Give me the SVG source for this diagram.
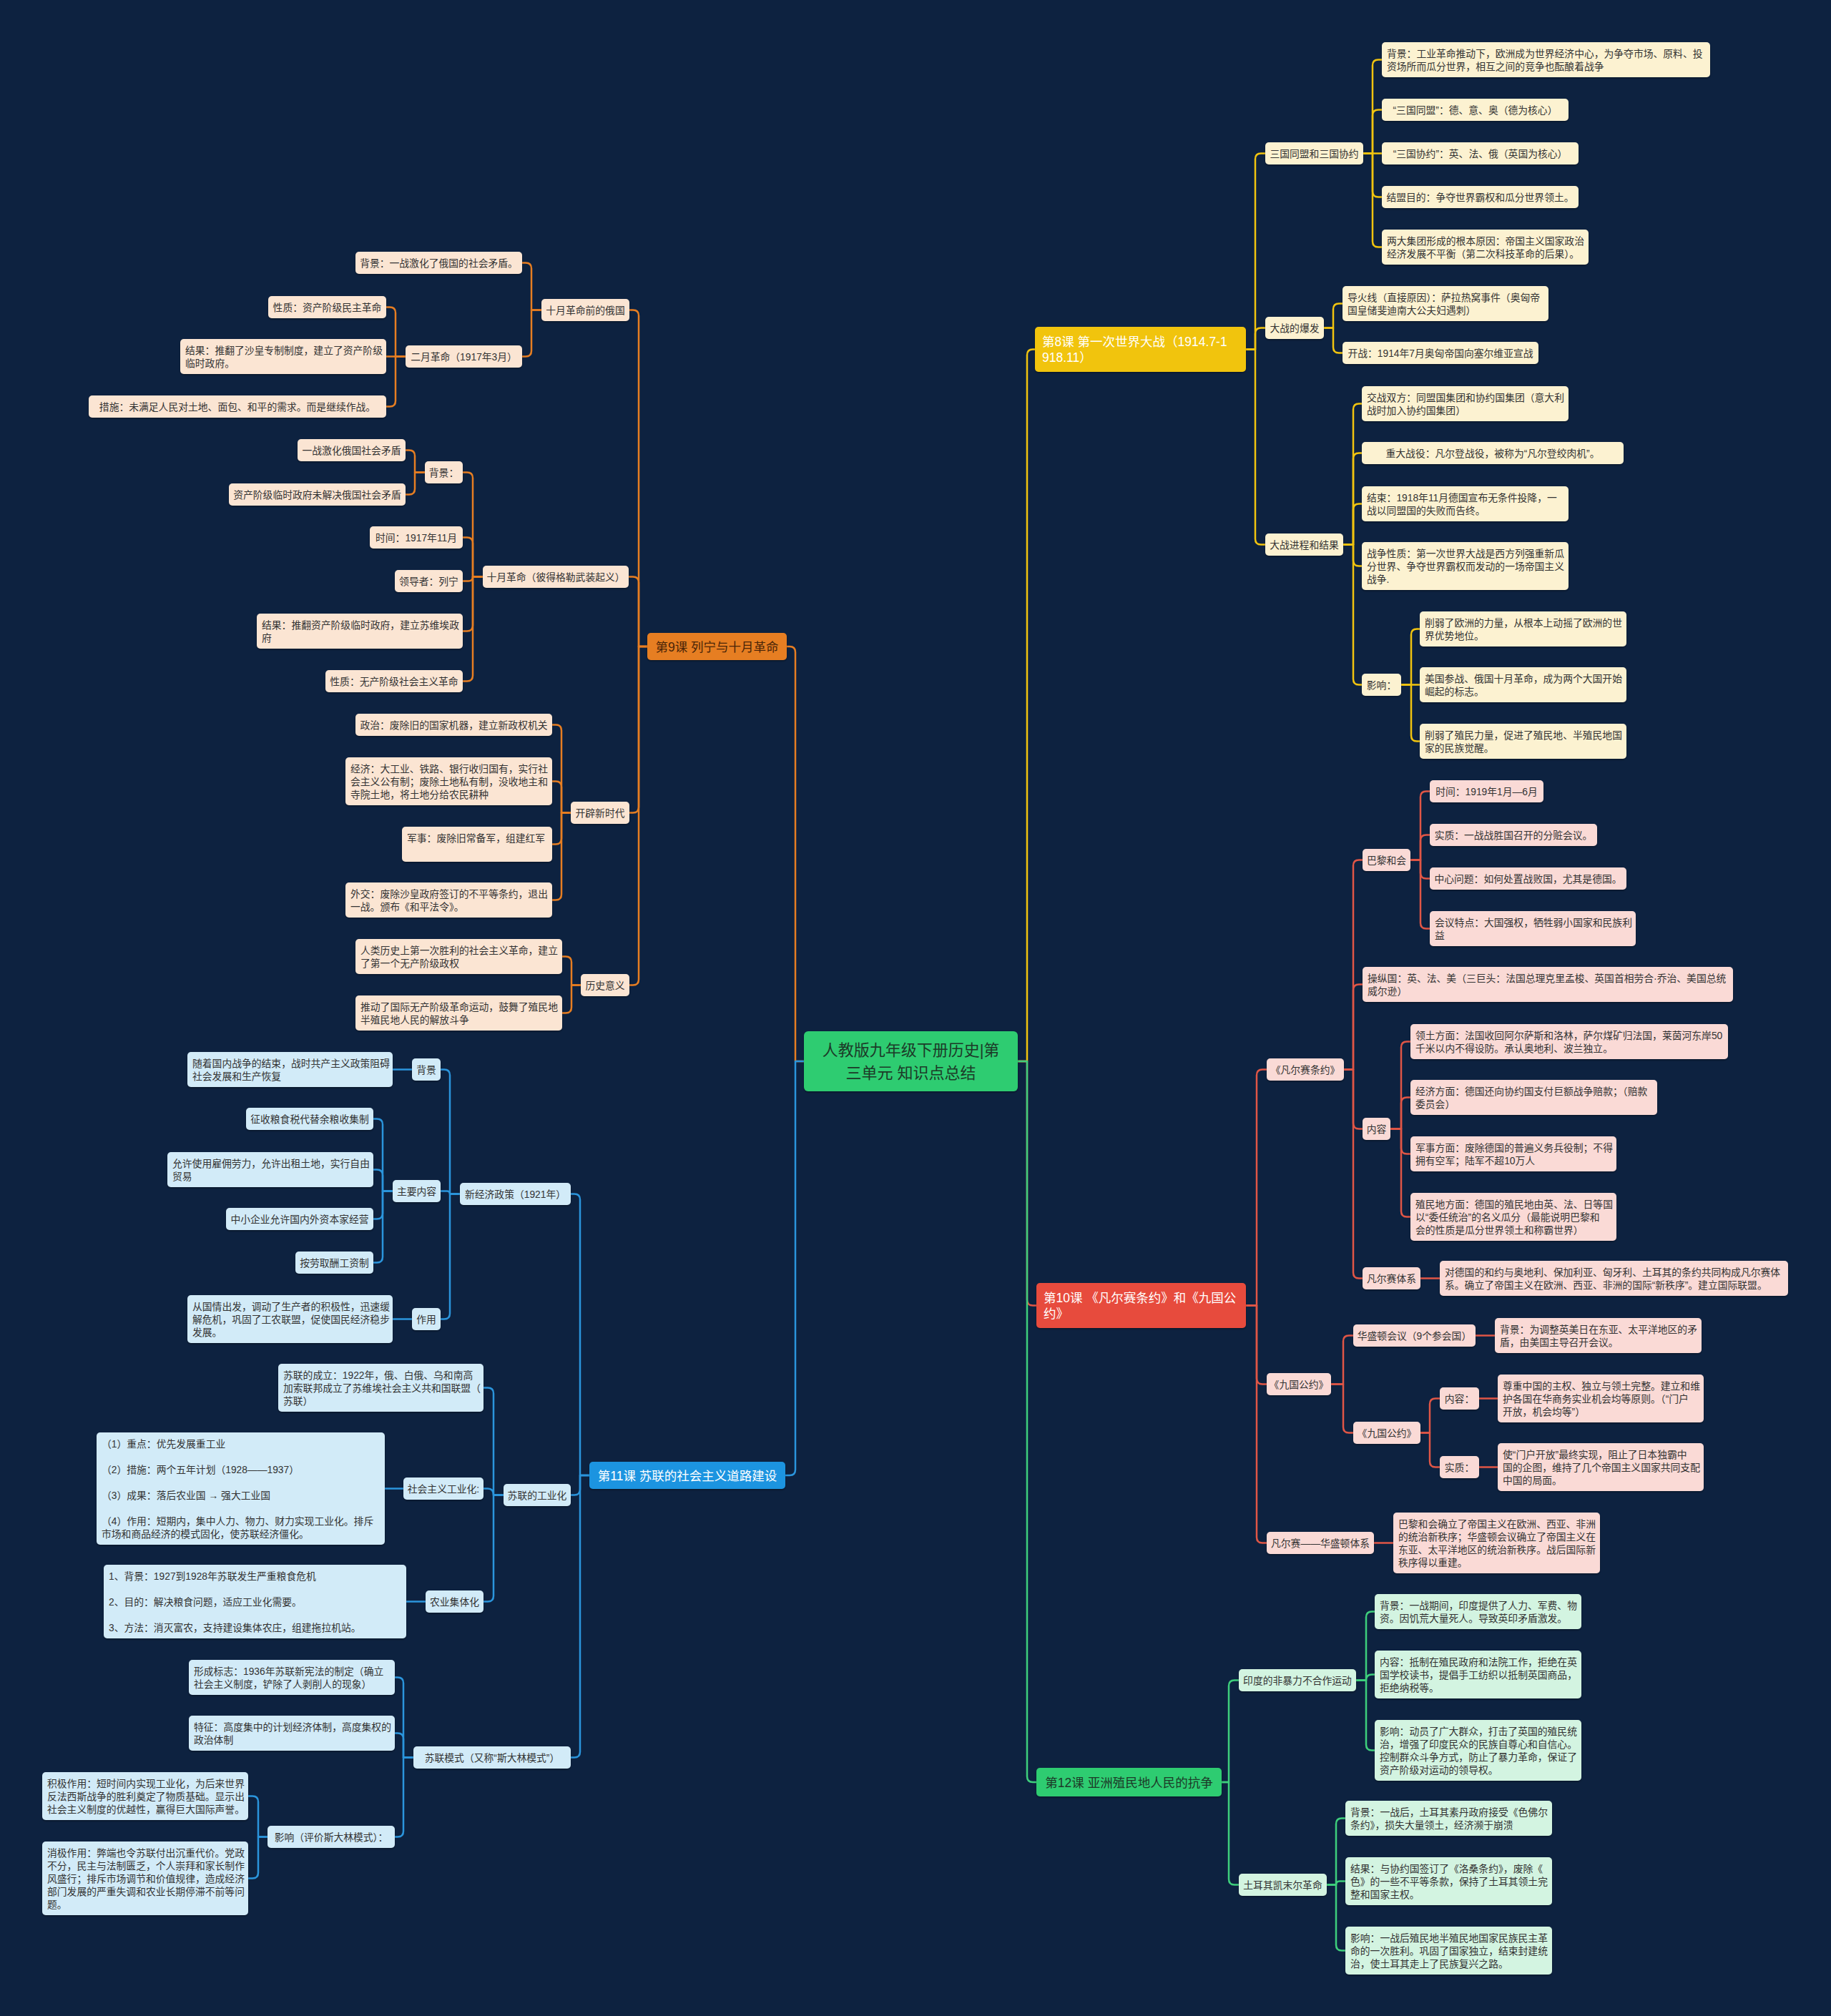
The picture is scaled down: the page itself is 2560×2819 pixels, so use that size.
<svg xmlns="http://www.w3.org/2000/svg" width="2560" height="2819" viewBox="0 0 2560 2819">
<defs>
<filter id="sh" x="-5%" y="-10%" width="110%" height="130%"><feDropShadow dx="0" dy="1.5" stdDeviation="1.2" flood-color="#000" flood-opacity="0.35"/></filter>
<style>
text{font-family:"Liberation Sans","Noto Sans CJK SC",sans-serif}
.t{font-size:13.8px;fill:#333}
.m{text-anchor:middle}
.L1{font-size:17.5px}
.ry{fill:#fcf2d1}.ro{fill:#fbe5d3}.rr{fill:#fadad6}.rb{fill:#d2ebf8}.rg{fill:#d3f4e1}
rect.n{filter:url(#sh)}
.c{fill:none;stroke-width:2.5;stroke-linecap:round;stroke-linejoin:round}
.cy{stroke:#f1c40f}.co{stroke:#e67e22}.cr{stroke:#e05646}.cb{stroke:#2b95dc}.cg{stroke:#3ecf7c}
</style>
</defs>
<rect x="0" y="0" width="2560" height="2819" fill="#0d2240"/>

<g id="connectors">
<path class="c co" d="M1124,1484H1112V912Q1112,904 1104,904H1100"/>
<path class="c cb" d="M1124,1484H1112V2055Q1112,2063 1104,2063H1098"/>
<path class="c cy" d="M1423,1484H1436V496.5Q1436,488.5 1444,488.5H1447"/>
<path class="c cr" d="M1423,1484H1436V1817.5Q1436,1825.5 1444,1825.5H1449"/>
<path class="c cg" d="M1423,1484H1436V2484Q1436,2492 1444,2492H1449"/>

<path class="c cy" d="M1742,488.5H1755V222.5Q1755,214.5 1763,214.5H1769"/>
<path class="c cy" d="M1742,488.5H1755V466.5Q1755,458.5 1763,458.5H1769"/>
<path class="c cy" d="M1742,488.5H1755V753.5Q1755,761.5 1763,761.5H1769"/>
<path class="c cy" d="M1906,214.5H1919V91.5Q1919,83.5 1927,83.5H1932"/>
<path class="c cy" d="M1906,214.5H1919V161.5Q1919,153.5 1927,153.5H1932"/>
<path class="c cy" d="M1906,214.5H1932"/>
<path class="c cy" d="M1906,214.5H1919V267.5Q1919,275.5 1927,275.5H1932"/>
<path class="c cy" d="M1906,214.5H1919V337.5Q1919,345.5 1927,345.5H1932"/>
<path class="c cy" d="M1851,458.5H1864V432.5Q1864,424.5 1872,424.5H1877"/>
<path class="c cy" d="M1851,458.5H1864V485.5Q1864,493.5 1872,493.5H1877"/>
<path class="c cy" d="M1878,761.5H1892V572.5Q1892,564.5 1900,564.5H1904"/>
<path class="c cy" d="M1878,761.5H1892V641.5Q1892,633.5 1900,633.5H1904"/>
<path class="c cy" d="M1878,761.5H1892V712.5Q1892,704.5 1900,704.5H1904"/>
<path class="c cy" d="M1878,761.5H1892V783.5Q1892,791.5 1900,791.5H1904"/>
<path class="c cy" d="M1878,761.5H1892V949.5Q1892,957.5 1900,957.5H1904"/>
<path class="c cy" d="M1959,957.5H1973V887.5Q1973,879.5 1981,879.5H1985"/>
<path class="c cy" d="M1959,957.5H1985"/>
<path class="c cy" d="M1959,957.5H1973V1028.5Q1973,1036.5 1981,1036.5H1985"/>

<path class="c cr" d="M1742,1825.5H1757V1503.5Q1757,1495.5 1765,1495.5H1771"/>
<path class="c cr" d="M1742,1825.5H1757V1927.5Q1757,1935.5 1765,1935.5H1771"/>
<path class="c cr" d="M1742,1825.5H1757V2149.5Q1757,2157.5 1765,2157.5H1771"/>
<path class="c cr" d="M1879,1495.5H1892V1210.5Q1892,1202.5 1900,1202.5H1905"/>
<path class="c cr" d="M1879,1495.5H1892V1384.5Q1892,1376.5 1900,1376.5H1905"/>
<path class="c cr" d="M1879,1495.5H1892V1570.5Q1892,1578.5 1900,1578.5H1905"/>
<path class="c cr" d="M1879,1495.5H1892V1779.5Q1892,1787.5 1900,1787.5H1905"/>
<path class="c cr" d="M1972,1202.5H1986V1114.5Q1986,1106.5 1994,1106.5H1999"/>
<path class="c cr" d="M1972,1202.5H1986V1175.5Q1986,1167.5 1994,1167.5H1999"/>
<path class="c cr" d="M1972,1202.5H1986V1220.5Q1986,1228.5 1994,1228.5H1999"/>
<path class="c cr" d="M1972,1202.5H1986V1290.5Q1986,1298.5 1994,1298.5H1999"/>
<path class="c cr" d="M1944,1578.5H1959V1464.5Q1959,1456.5 1967,1456.5H1972"/>
<path class="c cr" d="M1944,1578.5H1959V1542.5Q1959,1534.5 1967,1534.5H1972"/>
<path class="c cr" d="M1944,1578.5H1959V1605.5Q1959,1613.5 1967,1613.5H1972"/>
<path class="c cr" d="M1944,1578.5H1959V1693.5Q1959,1701.5 1967,1701.5H1972"/>
<path class="c cr" d="M1986,1787.5H2013"/>
<path class="c cr" d="M1861,1935.5H1878V1875.5Q1878,1867.5 1886,1867.5H1892"/>
<path class="c cr" d="M1861,1935.5H1878V1995.5Q1878,2003.5 1886,2003.5H1892"/>
<path class="c cr" d="M2063,1867.5H2090"/>
<path class="c cr" d="M1986,2003.5H1999V1963.5Q1999,1955.5 2007,1955.5H2013"/>
<path class="c cr" d="M1986,2003.5H1999V2043.5Q1999,2051.5 2007,2051.5H2013"/>
<path class="c cr" d="M2068,1955.5H2094"/>
<path class="c cr" d="M2068,2051.5H2094"/>
<path class="c cr" d="M1921,2157.5H1948"/>

<path class="c cg" d="M1708,2492H1718V2357.5Q1718,2349.5 1726,2349.5H1732"/>
<path class="c cg" d="M1708,2492H1718V2627.5Q1718,2635.5 1726,2635.5H1732"/>
<path class="c cg" d="M1896,2349.5H1910V2261.5Q1910,2253.5 1918,2253.5H1922"/>
<path class="c cg" d="M1896,2349.5H1910Q1910,2341.5 1918,2341.5H1922"/>
<path class="c cg" d="M1896,2349.5H1910V2439.5Q1910,2447.5 1918,2447.5H1922"/>
<path class="c cg" d="M1855,2635.5H1868V2550.5Q1868,2542.5 1876,2542.5H1881"/>
<path class="c cg" d="M1855,2635.5H1868Q1868,2630.5 1873,2630.5H1881"/>
<path class="c cg" d="M1855,2635.5H1868V2719.5Q1868,2727.5 1876,2727.5H1881"/>

<path class="c co" d="M905,904H893V441.5Q893,433.5 885,433.5H880"/>
<path class="c co" d="M905,904H893V814.5Q893,806.5 885,806.5H880"/>
<path class="c co" d="M905,904H893V1128.5Q893,1136.5 885,1136.5H880"/>
<path class="c co" d="M905,904H893V1369.5Q893,1377.5 885,1377.5H880"/>
<path class="c co" d="M757,433.5H743V375.5Q743,367.5 735,367.5H730"/>
<path class="c co" d="M757,433.5H743V490.5Q743,498.5 735,498.5H730"/>
<path class="c co" d="M567,498.5H553V437.5Q553,429.5 545,429.5H540"/>
<path class="c co" d="M567,498.5H540"/>
<path class="c co" d="M567,498.5H553V560.5Q553,568.5 545,568.5H540"/>
<path class="c co" d="M675,806.5H661V668.5Q661,660.5 653,660.5H647"/>
<path class="c co" d="M675,806.5H661V759.5Q661,751.5 653,751.5H647"/>
<path class="c co" d="M675,806.5H661Q661,812.5 655,812.5H647"/>
<path class="c co" d="M675,806.5H661V874.5Q661,882.5 653,882.5H647"/>
<path class="c co" d="M675,806.5H661V944.5Q661,952.5 653,952.5H647"/>
<path class="c co" d="M594,660.5H580V637.5Q580,629.5 572,629.5H567"/>
<path class="c co" d="M594,660.5H580V683.5Q580,691.5 572,691.5H567"/>
<path class="c co" d="M798,1136.5H785V1021.5Q785,1013.5 777,1013.5H772"/>
<path class="c co" d="M798,1136.5H785V1100.5Q785,1092.5 777,1092.5H772"/>
<path class="c co" d="M798,1136.5H785V1172.5Q785,1180.5 777,1180.5H772"/>
<path class="c co" d="M798,1136.5H785V1250.5Q785,1258.5 777,1258.5H772"/>
<path class="c co" d="M812,1377.5H799V1345.5Q799,1337.5 791,1337.5H786"/>
<path class="c co" d="M812,1377.5H799V1408.5Q799,1416.5 791,1416.5H786"/>

<path class="c cb" d="M824,2063H811V1677.5Q811,1669.5 803,1669.5H798"/>
<path class="c cb" d="M824,2063H811V2082.5Q811,2090.5 803,2090.5H798"/>
<path class="c cb" d="M824,2063H811V2449.5Q811,2457.5 803,2457.5H798"/>
<path class="c cb" d="M643,1669.5H629V1503.5Q629,1495.5 621,1495.5H616"/>
<path class="c cb" d="M643,1669.5H629Q629,1665.5 625,1665.5H616"/>
<path class="c cb" d="M643,1669.5H629V1836.5Q629,1844.5 621,1844.5H616"/>
<path class="c cb" d="M576,1495.5H549"/>
<path class="c cb" d="M549,1665.5H535V1572.5Q535,1564.5 527,1564.5H522"/>
<path class="c cb" d="M549,1665.5H535V1643.5Q535,1635.5 527,1635.5H522"/>
<path class="c cb" d="M549,1665.5H535V1696.5Q535,1704.5 527,1704.5H522"/>
<path class="c cb" d="M549,1665.5H535V1757.5Q535,1765.5 527,1765.5H522"/>
<path class="c cb" d="M576,1844.5H549"/>
<path class="c cb" d="M704,2090.5H690V1948.5Q690,1940.5 682,1940.5H676"/>
<path class="c cb" d="M704,2090.5H690Q690,2081.5 682,2081.5H676"/>
<path class="c cb" d="M704,2090.5H690V2231.5Q690,2239.5 682,2239.5H676"/>
<path class="c cb" d="M564,2081.5H538"/>
<path class="c cb" d="M595,2239.5H568"/>
<path class="c cb" d="M578,2457.5H564V2353.5Q564,2345.5 556,2345.5H552"/>
<path class="c cb" d="M578,2457.5H564V2431.5Q564,2423.5 556,2423.5H552"/>
<path class="c cb" d="M578,2457.5H564V2560.5Q564,2568.5 556,2568.5H552"/>
<path class="c cb" d="M374,2568.5H361V2519.5Q361,2511.5 353,2511.5H347"/>
<path class="c cb" d="M374,2568.5H361V2618.5Q361,2626.5 353,2626.5H347"/>
</g>

<g id="n-root"><rect class="n" x="1124" y="1442" width="299" height="84" rx="6" fill="#2ecc71"/>
<text class="m" font-size="22" fill="#1c3a28"><tspan x="1273.5" y="1476">人教版九年级下册历史|第</tspan><tspan x="1273.5" y="1508">三单元 知识点总结</tspan></text></g>

<g id="n-l8"><rect class="n" x="1447" y="457" width="295" height="63" rx="5" fill="#f1c40f"/>
<text class="L1" fill="#ffffff"><tspan x="1457" y="484">第8课 第一次世界大战（1914.7-1</tspan><tspan x="1457" y="506">918.11）</tspan></text></g>
<g id="n-l9"><rect class="n" x="905" y="885" width="195" height="38" rx="5" fill="#e67e22"/>
<text class="L1 m" x="1002.5" y="910.5" fill="#4a2508">第9课 列宁与十月革命</text></g>
<g id="n-l10"><rect class="n" x="1449" y="1794" width="293" height="63" rx="5" fill="#e74c3c"/>
<text class="L1" fill="#ffffff"><tspan x="1459" y="1821">第10课 《凡尔赛条约》和《九国公</tspan><tspan x="1459" y="1843">约》</tspan></text></g>
<g id="n-l11"><rect class="n" x="824" y="2044" width="274" height="38" rx="5" fill="#1b94e0"/>
<text class="L1 m" x="961" y="2069.5" fill="#ffffff">第11课 苏联的社会主义道路建设</text></g>
<g id="n-l12"><rect class="n" x="1449" y="2472" width="259" height="40" rx="5" fill="#2ecc71"/>
<text class="L1 m" x="1578.5" y="2498.5" fill="#1c3a28">第12课 亚洲殖民地人民的抗争</text></g>

<g id="n-a1"><rect class="n ry" x="1769" y="199" width="137" height="31" rx="5"/><text class="t m" x="1837.5" y="219.5">三国同盟和三国协约</text></g>
<g id="n-a1a"><rect class="n ry" x="1932" y="59" width="459" height="49" rx="5"/><text class="t"><tspan x="1939" y="79.5">背景：工业革命推动下，欧洲成为世界经济中心，为争夺市场、原料、投</tspan><tspan x="1939" y="97.5">资场所而瓜分世界，相互之间的竞争也酝酿着战争</tspan></text></g>
<g id="n-a1b"><rect class="n ry" x="1932" y="138" width="261" height="31" rx="5"/><text class="t m" x="2062.5" y="158.5">“三国同盟”：德、意、奥（德为核心）</text></g>
<g id="n-a1c"><rect class="n ry" x="1932" y="199" width="275" height="31" rx="5"/><text class="t m" x="2069.5" y="219.5">“三国协约”：英、法、俄（英国为核心）</text></g>
<g id="n-a1d"><rect class="n ry" x="1932" y="260" width="275" height="31" rx="5"/><text class="t m" x="2069.5" y="280.5">结盟目的：争夺世界霸权和瓜分世界领土。</text></g>
<g id="n-a1e"><rect class="n ry" x="1932" y="321" width="289" height="49" rx="5"/><text class="t"><tspan x="1939" y="341.5">两大集团形成的根本原因：帝国主义国家政治</tspan><tspan x="1939" y="359.5">经济发展不平衡（第二次科技革命的后果）。</tspan></text></g>
<g id="n-a2"><rect class="n ry" x="1769" y="443" width="82" height="31" rx="5"/><text class="t m" x="1810" y="463.5">大战的爆发</text></g>
<g id="n-a2a"><rect class="n ry" x="1877" y="400" width="288" height="49" rx="5"/><text class="t"><tspan x="1884" y="420.5">导火线（直接原因）：萨拉热窝事件（奥匈帝</tspan><tspan x="1884" y="438.5">国皇储斐迪南大公夫妇遇刺）</tspan></text></g>
<g id="n-a2b"><rect class="n ry" x="1877" y="478" width="274" height="31" rx="5"/><text class="t m" x="2014" y="498.5">开战：1914年7月奥匈帝国向塞尔维亚宣战</text></g>
<g id="n-a3"><rect class="n ry" x="1769" y="746" width="109" height="31" rx="5"/><text class="t m" x="1823.5" y="766.5">大战进程和结果</text></g>
<g id="n-a3a"><rect class="n ry" x="1904" y="540" width="289" height="49" rx="5"/><text class="t"><tspan x="1911" y="560.5">交战双方：同盟国集团和协约国集团（意大利</tspan><tspan x="1911" y="578.5">战时加入协约国集团）</tspan></text></g>
<g id="n-a3b"><rect class="n ry" x="1904" y="618" width="366" height="31" rx="5"/><text class="t m" x="2087" y="638.5">重大战役：凡尔登战役，被称为“凡尔登绞肉机”。</text></g>
<g id="n-a3c"><rect class="n ry" x="1904" y="680" width="289" height="49" rx="5"/><text class="t"><tspan x="1911" y="700.5">结束：1918年11月德国宣布无条件投降，一</tspan><tspan x="1911" y="718.5">战以同盟国的失败而告终。</tspan></text></g>
<g id="n-a3d"><rect class="n ry" x="1904" y="758" width="289" height="67" rx="5"/><text class="t"><tspan x="1911" y="778.5">战争性质：第一次世界大战是西方列强重新瓜</tspan><tspan x="1911" y="796.5">分世界、争夺世界霸权而发动的一场帝国主义</tspan><tspan x="1911" y="814.5">战争.</tspan></text></g>
<g id="n-a3e"><rect class="n ry" x="1904" y="942" width="55" height="31" rx="5"/><text class="t m" x="1931.5" y="962.5">影响：</text></g>
<g id="n-a3e1"><rect class="n ry" x="1985" y="855" width="289" height="49" rx="5"/><text class="t"><tspan x="1992" y="875.5">削弱了欧洲的力量，从根本上动摇了欧洲的世</tspan><tspan x="1992" y="893.5">界优势地位。</tspan></text></g>
<g id="n-a3e2"><rect class="n ry" x="1985" y="933" width="289" height="49" rx="5"/><text class="t"><tspan x="1992" y="953.5">美国参战、俄国十月革命，成为两个大国开始</tspan><tspan x="1992" y="971.5">崛起的标志。</tspan></text></g>
<g id="n-a3e3"><rect class="n ry" x="1985" y="1012" width="289" height="49" rx="5"/><text class="t"><tspan x="1992" y="1032.5">削弱了殖民力量，促进了殖民地、半殖民地国</tspan><tspan x="1992" y="1050.5">家的民族觉醒。</tspan></text></g>

<g id="n-b1"><rect class="n rr" x="1771" y="1480" width="108" height="31" rx="5"/><text class="t m" x="1825" y="1500.5">《凡尔赛条约》</text></g>
<g id="n-b1a"><rect class="n rr" x="1905" y="1187" width="67" height="31" rx="5"/><text class="t m" x="1938.5" y="1207.5">巴黎和会</text></g>
<g id="n-b1a1"><rect class="n rr" x="1999" y="1091" width="159" height="31" rx="5"/><text class="t m" x="2078.5" y="1111.5">时间：1919年1月—6月</text></g>
<g id="n-b1a2"><rect class="n rr" x="1999" y="1152" width="234" height="31" rx="5"/><text class="t m" x="2116" y="1172.5">实质：一战战胜国召开的分赃会议。</text></g>
<g id="n-b1a3"><rect class="n rr" x="1999" y="1213" width="275" height="31" rx="5"/><text class="t m" x="2136.5" y="1233.5">中心问题：如何处置战败国，尤其是德国。</text></g>
<g id="n-b1a4"><rect class="n rr" x="1999" y="1274" width="288" height="49" rx="5"/><text class="t"><tspan x="2006" y="1294.5">会议特点：大国强权，牺牲弱小国家和民族利</tspan><tspan x="2006" y="1312.5">益</tspan></text></g>
<g id="n-b1b"><rect class="n rr" x="1905" y="1352" width="518" height="49" rx="5"/><text class="t"><tspan x="1912" y="1372.5">操纵国：英、法、美（三巨头：法国总理克里孟梭、英国首相劳合·乔治、美国总统</tspan><tspan x="1912" y="1390.5">威尔逊）</tspan></text></g>
<g id="n-b1c"><rect class="n rr" x="1905" y="1563" width="39" height="31" rx="5"/><text class="t m" x="1924.5" y="1583.5">内容</text></g>
<g id="n-b1c1"><rect class="n rr" x="1972" y="1432" width="444" height="49" rx="5"/><text class="t"><tspan x="1979" y="1452.5">领土方面：法国收回阿尔萨斯和洛林，萨尔煤矿归法国，莱茵河东岸50</tspan><tspan x="1979" y="1470.5">千米以内不得设防。承认奥地利、波兰独立。</tspan></text></g>
<g id="n-b1c2"><rect class="n rr" x="1972" y="1510" width="345" height="49" rx="5"/><text class="t"><tspan x="1979" y="1530.5">经济方面：德国还向协约国支付巨额战争赔款；（赔款</tspan><tspan x="1979" y="1548.5">委员会）</tspan></text></g>
<g id="n-b1c3"><rect class="n rr" x="1972" y="1589" width="288" height="49" rx="5"/><text class="t"><tspan x="1979" y="1609.5">军事方面：废除德国的普遍义务兵役制；不得</tspan><tspan x="1979" y="1627.5">拥有空军；陆军不超10万人</tspan></text></g>
<g id="n-b1c4"><rect class="n rr" x="1972" y="1668" width="288" height="67" rx="5"/><text class="t"><tspan x="1979" y="1688.5">殖民地方面：德国的殖民地由英、法、日等国</tspan><tspan x="1979" y="1706.5">以“委任统治”的名义瓜分（最能说明巴黎和</tspan><tspan x="1979" y="1724.5">会的性质是瓜分世界领土和称霸世界）</tspan></text></g>
<g id="n-b1d"><rect class="n rr" x="1905" y="1772" width="81" height="31" rx="5"/><text class="t m" x="1945.5" y="1792.5">凡尔赛体系</text></g>
<g id="n-b1d1"><rect class="n rr" x="2013" y="1763" width="487" height="49" rx="5"/><text class="t"><tspan x="2020" y="1783.5">对德国的和约与奥地利、保加利亚、匈牙利、土耳其的条约共同构成凡尔赛体</tspan><tspan x="2020" y="1801.5">系。确立了帝国主义在欧洲、西亚、非洲的国际“新秩序”。建立国际联盟。</tspan></text></g>
<g id="n-b2"><rect class="n rr" x="1771" y="1920" width="90" height="31" rx="5"/><text class="t m" x="1816" y="1940.5">《九国公约》</text></g>
<g id="n-b2a"><rect class="n rr" x="1892" y="1852" width="171" height="31" rx="5"/><text class="t m" x="1977.5" y="1872.5">华盛顿会议（9个参会国）</text></g>
<g id="n-b2a1"><rect class="n rr" x="2090" y="1843" width="289" height="49" rx="5"/><text class="t"><tspan x="2097" y="1863.5">背景：为调整英美日在东亚、太平洋地区的矛</tspan><tspan x="2097" y="1881.5">盾，由美国主导召开会议。</tspan></text></g>
<g id="n-b2b"><rect class="n rr" x="1892" y="1988" width="94" height="31" rx="5"/><text class="t m" x="1939" y="2008.5">《九国公约》</text></g>
<g id="n-b2b1"><rect class="n rr" x="2013" y="1940" width="55" height="31" rx="5"/><text class="t m" x="2040.5" y="1960.5">内容：</text></g>
<g id="n-b2b1a"><rect class="n rr" x="2094" y="1922" width="288" height="67" rx="5"/><text class="t"><tspan x="2101" y="1942.5">尊重中国的主权、独立与领土完整。建立和维</tspan><tspan x="2101" y="1960.5">护各国在华商务实业机会均等原则。（“门户</tspan><tspan x="2101" y="1978.5">开放，机会均等”）</tspan></text></g>
<g id="n-b2b2"><rect class="n rr" x="2013" y="2036" width="55" height="31" rx="5"/><text class="t m" x="2040.5" y="2056.5">实质：</text></g>
<g id="n-b2b2a"><rect class="n rr" x="2094" y="2018" width="288" height="67" rx="5"/><text class="t"><tspan x="2101" y="2038.5">使“门户开放”最终实现，阻止了日本独霸中</tspan><tspan x="2101" y="2056.5">国的企图，维持了几个帝国主义国家共同支配</tspan><tspan x="2101" y="2074.5">中国的局面。</tspan></text></g>
<g id="n-b3"><rect class="n rr" x="1771" y="2142" width="150" height="31" rx="5"/><text class="t m" x="1846" y="2162.5">凡尔赛——华盛顿体系</text></g>
<g id="n-b3a"><rect class="n rr" x="1948" y="2115" width="289" height="85" rx="5"/><text class="t"><tspan x="1955" y="2135.5">巴黎和会确立了帝国主义在欧洲、西亚、非洲</tspan><tspan x="1955" y="2153.5">的统治新秩序；华盛顿会议确立了帝国主义在</tspan><tspan x="1955" y="2171.5">东亚、太平洋地区的统治新秩序。战后国际新</tspan><tspan x="1955" y="2189.5">秩序得以重建。</tspan></text></g>

<g id="n-c1"><rect class="n rg" x="1732" y="2334" width="164" height="31" rx="5"/><text class="t m" x="1814" y="2354.5">印度的非暴力不合作运动</text></g>
<g id="n-c1a"><rect class="n rg" x="1922" y="2229" width="289" height="49" rx="5"/><text class="t"><tspan x="1929" y="2249.5">背景：一战期间，印度提供了人力、军费、物</tspan><tspan x="1929" y="2267.5">资。因饥荒大量死人。导致英印矛盾激发。</tspan></text></g>
<g id="n-c1b"><rect class="n rg" x="1922" y="2308" width="289" height="67" rx="5"/><text class="t"><tspan x="1929" y="2328.5">内容：抵制在殖民政府和法院工作，拒绝在英</tspan><tspan x="1929" y="2346.5">国学校读书，提倡手工纺织以抵制英国商品，</tspan><tspan x="1929" y="2364.5">拒绝纳税等。</tspan></text></g>
<g id="n-c1c"><rect class="n rg" x="1922" y="2405" width="289" height="85" rx="5"/><text class="t"><tspan x="1929" y="2425.5">影响：动员了广大群众，打击了英国的殖民统</tspan><tspan x="1929" y="2443.5">治，增强了印度民众的民族自尊心和自信心。</tspan><tspan x="1929" y="2461.5">控制群众斗争方式，防止了暴力革命，保证了</tspan><tspan x="1929" y="2479.5">资产阶级对运动的领导权。</tspan></text></g>
<g id="n-c2"><rect class="n rg" x="1732" y="2620" width="123" height="31" rx="5"/><text class="t m" x="1793.5" y="2640.5">土耳其凯末尔革命</text></g>
<g id="n-c2a"><rect class="n rg" x="1881" y="2518" width="289" height="49" rx="5"/><text class="t"><tspan x="1888" y="2538.5">背景：一战后，土耳其素丹政府接受《色佛尔</tspan><tspan x="1888" y="2556.5">条约》，损失大量领土，经济濒于崩溃</tspan></text></g>
<g id="n-c2b"><rect class="n rg" x="1881" y="2597" width="289" height="67" rx="5"/><text class="t"><tspan x="1888" y="2617.5">结果：与协约国签订了《洛桑条约》，废除《</tspan><tspan x="1888" y="2635.5">色》的一些不平等条款，保持了土耳其领土完</tspan><tspan x="1888" y="2653.5">整和国家主权。</tspan></text></g>
<g id="n-c2c"><rect class="n rg" x="1881" y="2694" width="289" height="67" rx="5"/><text class="t"><tspan x="1888" y="2714.5">影响：一战后殖民地半殖民地国家民族民主革</tspan><tspan x="1888" y="2732.5">命的一次胜利。巩固了国家独立，结束封建统</tspan><tspan x="1888" y="2750.5">治，使土耳其走上了民族复兴之路。</tspan></text></g>

<g id="n-d1"><rect class="n ro" x="757" y="418" width="123" height="31" rx="5"/><text class="t m" x="818.5" y="438.5">十月革命前的俄国</text></g>
<g id="n-d1a"><rect class="n ro" x="497" y="352" width="233" height="31" rx="5"/><text class="t m" x="613.5" y="372.5">背景：一战激化了俄国的社会矛盾。</text></g>
<g id="n-d1b"><rect class="n ro" x="567" y="483" width="163" height="31" rx="5"/><text class="t m" x="648.5" y="503.5">二月革命（1917年3月）</text></g>
<g id="n-d1b1"><rect class="n ro" x="375" y="414" width="165" height="31" rx="5"/><text class="t m" x="457.5" y="434.5">性质：资产阶级民主革命</text></g>
<g id="n-d1b2"><rect class="n ro" x="252" y="474" width="288" height="49" rx="5"/><text class="t"><tspan x="259" y="494.5">结果：推翻了沙皇专制制度，建立了资产阶级</tspan><tspan x="259" y="512.5">临时政府。</tspan></text></g>
<g id="n-d1b3"><rect class="n ro" x="124" y="553" width="416" height="31" rx="5"/><text class="t m" x="332" y="573.5">措施：未满足人民对土地、面包、和平的需求。而是继续作战。</text></g>
<g id="n-d2"><rect class="n ro" x="675" y="791" width="204" height="31" rx="5"/><text class="t m" x="777" y="811.5">十月革命（彼得格勒武装起义）</text></g>
<g id="n-d2a"><rect class="n ro" x="594" y="645" width="53" height="31" rx="5"/><text class="t m" x="620.5" y="665.5">背景：</text></g>
<g id="n-d2a1"><rect class="n ro" x="416" y="614" width="151" height="31" rx="5"/><text class="t m" x="491.5" y="634.5">一战激化俄国社会矛盾</text></g>
<g id="n-d2a2"><rect class="n ro" x="320" y="676" width="247" height="31" rx="5"/><text class="t m" x="443.5" y="696.5">资产阶级临时政府未解决俄国社会矛盾</text></g>
<g id="n-d2b"><rect class="n ro" x="517" y="736" width="130" height="31" rx="5"/><text class="t m" x="582" y="756.5">时间：1917年11月</text></g>
<g id="n-d2c"><rect class="n ro" x="552" y="797" width="95" height="31" rx="5"/><text class="t m" x="599.5" y="817.5">领导者：列宁</text></g>
<g id="n-d2d"><rect class="n ro" x="359" y="858" width="288" height="49" rx="5"/><text class="t"><tspan x="366" y="878.5">结果：推翻资产阶级临时政府，建立苏维埃政</tspan><tspan x="366" y="896.5">府</tspan></text></g>
<g id="n-d2e"><rect class="n ro" x="455" y="937" width="192" height="31" rx="5"/><text class="t m" x="551" y="957.5">性质：无产阶级社会主义革命</text></g>
<g id="n-d3"><rect class="n ro" x="798" y="1121" width="82" height="31" rx="5"/><text class="t m" x="839" y="1141.5">开辟新时代</text></g>
<g id="n-d3a"><rect class="n ro" x="497" y="998" width="275" height="31" rx="5"/><text class="t m" x="634.5" y="1018.5">政治：废除旧的国家机器，建立新政权机关</text></g>
<g id="n-d3b"><rect class="n ro" x="483" y="1059" width="289" height="67" rx="5"/><text class="t"><tspan x="490" y="1079.5">经济：大工业、铁路、银行收归国有，实行社</tspan><tspan x="490" y="1097.5">会主义公有制；废除土地私有制，没收地主和</tspan><tspan x="490" y="1115.5">寺院土地，将土地分给农民耕种</tspan></text></g>
<g id="n-d3c"><rect class="n ro" x="562" y="1156" width="210" height="49" rx="5"/><text class="t" x="569" y="1176.5">军事：废除旧常备军，组建红军</text></g>
<g id="n-d3d"><rect class="n ro" x="483" y="1234" width="289" height="49" rx="5"/><text class="t"><tspan x="490" y="1254.5">外交：废除沙皇政府签订的不平等条约，退出</tspan><tspan x="490" y="1272.5">一战。颁布《和平法令》。</tspan></text></g>
<g id="n-d4"><rect class="n ro" x="812" y="1362" width="68" height="31" rx="5"/><text class="t m" x="846" y="1382.5">历史意义</text></g>
<g id="n-d4a"><rect class="n ro" x="497" y="1313" width="289" height="49" rx="5"/><text class="t"><tspan x="504" y="1333.5">人类历史上第一次胜利的社会主义革命，建立</tspan><tspan x="504" y="1351.5">了第一个无产阶级政权</tspan></text></g>
<g id="n-d4b"><rect class="n ro" x="497" y="1392" width="289" height="49" rx="5"/><text class="t"><tspan x="504" y="1412.5">推动了国际无产阶级革命运动，鼓舞了殖民地</tspan><tspan x="504" y="1430.5">半殖民地人民的解放斗争</tspan></text></g>

<g id="n-e1"><rect class="n rb" x="643" y="1654" width="155" height="31" rx="5"/><text class="t m" x="720.5" y="1674.5">新经济政策（1921年）</text></g>
<g id="n-e1a"><rect class="n rb" x="576" y="1480" width="40" height="31" rx="5"/><text class="t m" x="596" y="1500.5">背景</text></g>
<g id="n-e1a1"><rect class="n rb" x="262" y="1471" width="287" height="49" rx="5"/><text class="t"><tspan x="269" y="1491.5">随着国内战争的结束，战时共产主义政策阻碍</tspan><tspan x="269" y="1509.5">社会发展和生产恢复</tspan></text></g>
<g id="n-e1b"><rect class="n rb" x="549" y="1650" width="67" height="31" rx="5"/><text class="t m" x="582.5" y="1670.5">主要内容</text></g>
<g id="n-e1b1"><rect class="n rb" x="344" y="1549" width="178" height="31" rx="5"/><text class="t m" x="433" y="1569.5">征收粮食税代替余粮收集制</text></g>
<g id="n-e1b2"><rect class="n rb" x="234" y="1611" width="288" height="49" rx="5"/><text class="t"><tspan x="241" y="1631.5">允许使用雇佣劳力，允许出租土地，实行自由</tspan><tspan x="241" y="1649.5">贸易</tspan></text></g>
<g id="n-e1b3"><rect class="n rb" x="316" y="1689" width="206" height="31" rx="5"/><text class="t m" x="419" y="1709.5">中小企业允许国内外资本家经营</text></g>
<g id="n-e1b4"><rect class="n rb" x="413" y="1750" width="109" height="31" rx="5"/><text class="t m" x="467.5" y="1770.5">按劳取酬工资制</text></g>
<g id="n-e1c"><rect class="n rb" x="576" y="1829" width="40" height="31" rx="5"/><text class="t m" x="596" y="1849.5">作用</text></g>
<g id="n-e1c1"><rect class="n rb" x="262" y="1811" width="287" height="67" rx="5"/><text class="t"><tspan x="269" y="1831.5">从国情出发，调动了生产者的积极性，迅速缓</tspan><tspan x="269" y="1849.5">解危机，巩固了工农联盟，促使国民经济稳步</tspan><tspan x="269" y="1867.5">发展。</tspan></text></g>
<g id="n-e2"><rect class="n rb" x="704" y="2075" width="94" height="31" rx="5"/><text class="t m" x="751" y="2095.5">苏联的工业化</text></g>
<g id="n-e2a"><rect class="n rb" x="389" y="1907" width="287" height="67" rx="5"/><text class="t"><tspan x="396" y="1927.5">苏联的成立：1922年，俄、白俄、乌和南高</tspan><tspan x="396" y="1945.5">加索联邦成立了苏维埃社会主义共和国联盟（</tspan><tspan x="396" y="1963.5">苏联）</tspan></text></g>
<g id="n-e2b"><rect class="n rb" x="564" y="2066" width="112" height="31" rx="5"/><text class="t m" x="620" y="2086.5">社会主义工业化:</text></g>
<g id="n-e2b1"><rect class="n rb" x="135" y="2003" width="403" height="157" rx="5"/><text class="t"><tspan x="142" y="2023.5">（1）重点：优先发展重工业</tspan><tspan x="142" y="2059.5">（2）措施：两个五年计划（1928——1937）</tspan><tspan x="142" y="2095.5">（3）成果：落后农业国 → 强大工业国</tspan><tspan x="142" y="2131.5">（4）作用：短期内，集中人力、物力、财力实现工业化。排斥</tspan><tspan x="142" y="2149.5">市场和商品经济的模式固化，使苏联经济僵化。</tspan></text></g>
<g id="n-e2c"><rect class="n rb" x="595" y="2224" width="81" height="31" rx="5"/><text class="t m" x="635.5" y="2244.5">农业集体化</text></g>
<g id="n-e2c1"><rect class="n rb" x="145" y="2188" width="423" height="103" rx="5"/><text class="t"><tspan x="152" y="2208.5">1、背景：1927到1928年苏联发生严重粮食危机</tspan><tspan x="152" y="2244.5">2、目的：解决粮食问题，适应工业化需要。</tspan><tspan x="152" y="2280.5">3、方法：消灭富农，支持建设集体农庄，组建拖拉机站。</tspan></text></g>
<g id="n-e3"><rect class="n rb" x="578" y="2442" width="220" height="31" rx="5"/><text class="t m" x="688" y="2462.5">苏联模式（又称“斯大林模式”）</text></g>
<g id="n-e3a"><rect class="n rb" x="264" y="2321" width="288" height="49" rx="5"/><text class="t"><tspan x="271" y="2341.5">形成标志：1936年苏联新宪法的制定（确立</tspan><tspan x="271" y="2359.5">社会主义制度，铲除了人剥削人的现象）</tspan></text></g>
<g id="n-e3b"><rect class="n rb" x="264" y="2399" width="288" height="49" rx="5"/><text class="t"><tspan x="271" y="2419.5">特征：高度集中的计划经济体制，高度集权的</tspan><tspan x="271" y="2437.5">政治体制</tspan></text></g>
<g id="n-e3c"><rect class="n rb" x="374" y="2553" width="178" height="31" rx="5"/><text class="t m" x="463" y="2573.5">影响（评价斯大林模式）：</text></g>
<g id="n-e3c1"><rect class="n rb" x="59" y="2478" width="288" height="67" rx="5"/><text class="t"><tspan x="66" y="2498.5">积极作用：短时间内实现工业化，为后来世界</tspan><tspan x="66" y="2516.5">反法西斯战争的胜利奠定了物质基础。显示出</tspan><tspan x="66" y="2534.5">社会主义制度的优越性，赢得巨大国际声誉。</tspan></text></g>
<g id="n-e3c2"><rect class="n rb" x="59" y="2575" width="288" height="103" rx="5"/><text class="t"><tspan x="66" y="2595.5">消极作用：弊端也令苏联付出沉重代价。党政</tspan><tspan x="66" y="2613.5">不分，民主与法制匮乏，个人崇拜和家长制作</tspan><tspan x="66" y="2631.5">风盛行；排斥市场调节和价值规律，造成经济</tspan><tspan x="66" y="2649.5">部门发展的严重失调和农业长期停滞不前等问</tspan><tspan x="66" y="2667.5">题。</tspan></text></g>
</svg>
